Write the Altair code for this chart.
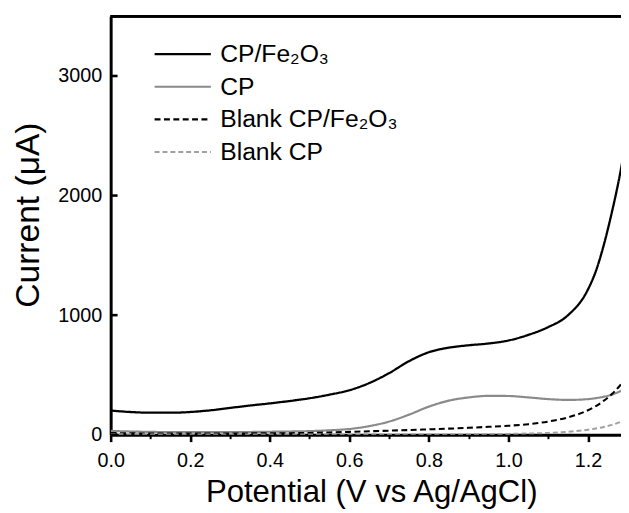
import altair as alt
import pandas as pd

# ---- data ----
potential = [0.00, 0.05, 0.10, 0.15, 0.20, 0.25, 0.30, 0.35, 0.40, 0.45,
             0.50, 0.55, 0.60, 0.65, 0.70, 0.75, 0.80, 0.85, 0.90, 0.95,
             1.00, 1.05, 1.10, 1.15, 1.20, 1.22, 1.24, 1.26, 1.28, 1.30]

cp_fe2o3 = [202, 190, 184, 184, 190, 204, 224, 244, 262, 282,
            305, 335, 372, 432, 515, 615, 690, 728, 748, 763,
            788, 835, 900, 1000, 1215, 1370, 1590, 1860, 2170, 2550]

cp = [32, 27, 24, 22, 22, 22, 22, 23, 25, 27,
      30, 37, 48, 72, 110, 168, 235, 285, 312, 325,
      324, 312, 298, 291, 298, 306, 318, 335, 362, 395]

blank_cp_fe2o3 = [14, 12, 10, 10, 10, 10, 10, 11, 12, 13,
                  15, 19, 24, 29, 34, 39, 45, 51, 58, 66,
                  75, 88, 110, 145, 205, 240, 285, 340, 410, 490]

blank_cp = [6, 4, 3, 3, 3, 3, 3, 3, 3, 3,
            3, 3, 3, 3, 3, 3, 3, 3, 3, 5,
            7, 10, 15, 25, 42, 52, 65, 82, 105, 130]

series_names = ["CP/Fe\u2082O\u2083", "CP", "Blank CP/Fe\u2082O\u2083", "Blank CP"]
series_colors = ["#000000", "#8a8a8a", "#000000", "#a0a0a0"]
series_dashes = [[1, 0], [1, 0], [6, 3.5], [5, 3]]
series_widths = [2.3, 2.0, 2.4, 1.5]

x_tick_values = [0.0, 0.1, 0.2, 0.3, 0.4, 0.5, 0.6, 0.7, 0.8, 0.9, 1.0, 1.1, 1.2]
y_tick_values = [0, 1000, 2000, 3000]
y_top = 3500
x_max = 1.283

rows = []
for name, ys in zip(series_names, [cp_fe2o3, cp, blank_cp_fe2o3, blank_cp]):
    for xv, yv in zip(potential, ys):
        rows.append({"Potential": xv, "Current": yv, "Series": name})
df = pd.DataFrame(rows)
ticks_df = pd.DataFrame({"Current": y_tick_values})

FONT = "Liberation Sans"

legend = alt.Legend(
    title=None, orient="none", legendX=43, legendY=22,
    symbolType="M-1,0L1,0", symbolSize=3249, labelFontSize=25, labelFont=FONT,
    labelColor="black", labelOffset=8, labelLimit=400, padding=0,
    clipHeight=33, rowPadding=0,
)

x_scale = alt.Scale(domain=[0, x_max], nice=False, zero=False)
y_scale = alt.Scale(domain=[0, y_top], nice=False)

x_axis = alt.Axis(
    values=x_tick_values,
    labelExpr="round(datum.value*10)%2==0 ? format(datum.value, '.1f') : ''",
    tickSize={"condition": {"test": "round(datum.value*10)%2==1", "value": 4}, "value": 7},
    tickWidth={"condition": {"test": "round(datum.value*10)%2==1", "value": 2}, "value": 2.6},
    labelPadding=9, labelFlush=False, labelOverlap=False,
    title="Potential (V vs Ag/AgCl)", titleFontSize=31.5, titleX=264, titleY=68,
    titleBaseline="alphabetic",
)
y_axis = alt.Axis(
    values=y_tick_values, ticks=False, labelPadding=9, format="d",
    title="Current (\u03bcA)", titleFontSize=34, titleX=-73, titleY=201,
    titleBaseline="alphabetic",
)

lines = alt.Chart(df).mark_line(clip=True, interpolate="monotone").encode(
    x=alt.X("Potential:Q", scale=x_scale, axis=x_axis),
    y=alt.Y("Current:Q", scale=y_scale, axis=y_axis),
    color=alt.Color("Series:N", scale=alt.Scale(domain=series_names, range=series_colors), legend=legend),
    strokeDash=alt.StrokeDash("Series:N", scale=alt.Scale(domain=series_names, range=series_dashes), legend=legend),
    strokeWidth=alt.StrokeWidth("Series:N", scale=alt.Scale(domain=series_names, range=series_widths), legend=legend),
    order=alt.Order("Potential:Q"),
)

y_ticks = alt.Chart(ticks_df).mark_rule(color="black", strokeWidth=2.6).encode(
    y=alt.Y("Current:Q", scale=y_scale),
    x=alt.value(0), x2=alt.value(7),
)

top_frame = alt.Chart(ticks_df).mark_rule(color="black", strokeWidth=2.5).encode(
    y=alt.datum(y_top),
)

chart = alt.layer(lines, y_ticks, top_frame).properties(
    width=517, height=424,
    autosize=alt.AutoSizeParams(type="none"),
    padding={"left": 104, "top": 5, "right": 0, "bottom": 76},
    background="white",
).configure_view(stroke="transparent").configure_axis(
    grid=False, domainColor="black", domainWidth=3, tickColor="black",
    labelFont=FONT, labelFontSize=20, labelColor="black",
    titleFont=FONT, titleFontWeight="normal", titleColor="black",
)

chart.save("out.html", embed_options={"renderer": "svg", "actions": False})
